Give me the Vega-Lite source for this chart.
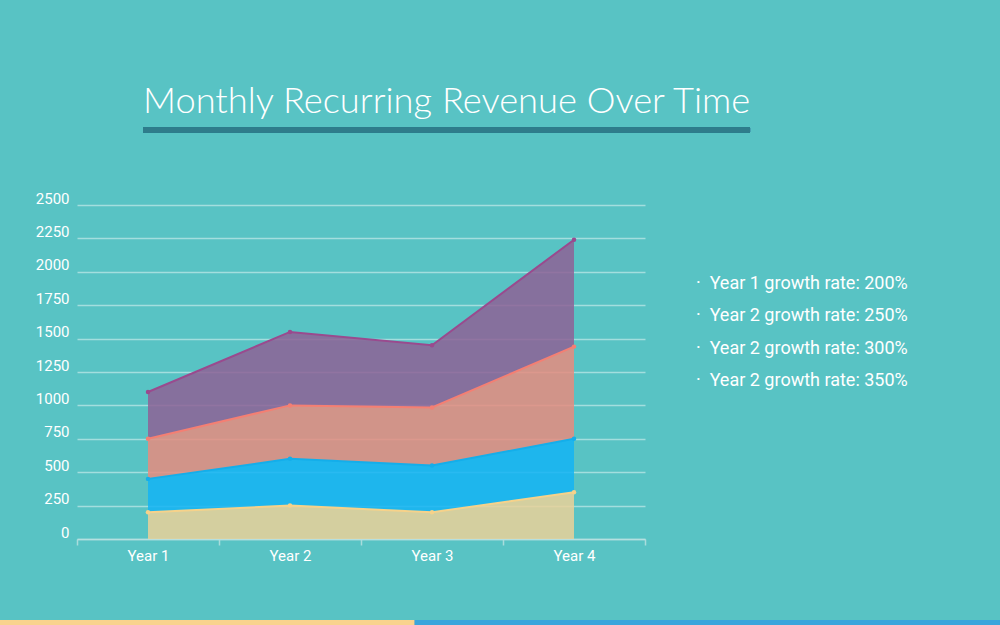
{
  "$schema": "https://vega.github.io/schema/vega-lite/v6.json",
  "autosize": "none",
  "width": 568,
  "height": 334,
  "padding": {"left": 77, "top": 205, "right": 355, "bottom": 86},
  "background": "#58C3C4",
  "title": {
    "text": "Monthly Recurring Revenue Over Time",
    "anchor": "start",
    "frame": "group",
    "dx": 66,
    "offset": -21,
    "baseline": "alphabetic",
    "font": "Lato",
    "fontWeight": 300,
    "fontSize": 36.3,
    "color": "#ffffff"
  },
  "config": {
    "view": {"stroke": null},
    "axis": {"labelFont": "Roboto", "labelColor": "#ffffff", "labelFontSize": 15, "title": null}
  },
  "data": {
    "values": [
      {"year": "Year 1", "series": "Year 1 growth rate: 200%", "value": 200},
      {"year": "Year 2", "series": "Year 1 growth rate: 200%", "value": 250},
      {"year": "Year 3", "series": "Year 1 growth rate: 200%", "value": 200},
      {"year": "Year 4", "series": "Year 1 growth rate: 200%", "value": 350},
      {"year": "Year 1", "series": "Year 2 growth rate: 250%", "value": 250},
      {"year": "Year 2", "series": "Year 2 growth rate: 250%", "value": 350},
      {"year": "Year 3", "series": "Year 2 growth rate: 250%", "value": 350},
      {"year": "Year 4", "series": "Year 2 growth rate: 250%", "value": 400},
      {"year": "Year 1", "series": "Year 2 growth rate: 300%", "value": 300},
      {"year": "Year 2", "series": "Year 2 growth rate: 300%", "value": 400},
      {"year": "Year 3", "series": "Year 2 growth rate: 300%", "value": 435},
      {"year": "Year 4", "series": "Year 2 growth rate: 300%", "value": 690},
      {"year": "Year 1", "series": "Year 2 growth rate: 350%", "value": 350},
      {"year": "Year 2", "series": "Year 2 growth rate: 350%", "value": 550},
      {"year": "Year 3", "series": "Year 2 growth rate: 350%", "value": 465},
      {"year": "Year 4", "series": "Year 2 growth rate: 350%", "value": 800}
    ]
  },
  "transform": [
    {"stack": "value", "groupby": ["year"], "sort": [{"field": "series", "order": "ascending"}], "as": ["v0", "v1"]}
  ],
  "resolve": {"scale": {"x": "independent"}},
  "layer": [
    {
      "mark": {"type": "area", "fillOpacity": 0.85},
      "encoding": {
        "x": {
          "field": "year", "type": "ordinal", "bandPosition": 0.5,
          "scale": {"type": "band", "paddingInner": 0, "paddingOuter": 0},
          "axis": {
            "labelAngle": 0, "labelPadding": 3, "tickBand": "extent", "tickSize": 6,
            "domainColor": "#b5e0e0", "domainWidth": 1.5, "tickColor": "#a9dcdc", "tickWidth": 1.5,
            "grid": false
          }
        },
        "y": {
          "field": "v1", "type": "quantitative",
          "scale": {"domain": [0, 2500], "nice": false},
          "axis": {
            "values": [0, 250, 500, 750, 1000, 1250, 1500, 1750, 2000, 2250, 2500],
            "format": "d", "labelOverlap": false, "labelOffset": -7,
            "domain": false, "ticks": false, "labelPadding": 8,
            "gridColor": "#ffffff", "gridOpacity": 0.45, "gridWidth": 1.5
          }
        },
        "y2": {"field": "v0"},
        "fill": {
          "field": "series", "type": "nominal",
          "scale": {"range": ["#EAD199", "#14B4F5", "#E68C7F", "#8E6196"]},
          "legend": {
            "title": null, "orient": "none", "legendX": 601, "legendY": 70,
            "symbolType": "circle", "symbolSize": 12, "symbolStrokeWidth": 0, "symbolOpacity": 0, "labelOffset": 0,
            "labelExpr": "'·\u00a0\u00a0' + datum.label",
            "labelFont": "Roboto", "labelFontSize": 18, "labelColor": "#ffffff",
            "labelLimit": 400, "rowPadding": 14.3
          }
        }
      }
    },
    {
      "mark": {"type": "line", "strokeWidth": 2},
      "encoding": {
        "x": {"field": "year", "type": "ordinal", "bandPosition": 0.5, "scale": {"type": "band", "paddingInner": 0, "paddingOuter": 0}, "axis": null},
        "y": {
          "field": "v1", "type": "quantitative",
          "axis": {
            "values": [0, 250, 500, 750, 1000, 1250, 1500, 1750, 2000, 2250, 2500],
            "format": "d", "labelOverlap": false, "labelOffset": -7,
            "domain": false, "ticks": false, "labelPadding": 8,
            "gridColor": "#ffffff", "gridOpacity": 0.45, "gridWidth": 1.5
          }
        },
        "stroke": {
          "field": "series", "type": "nominal",
          "scale": {"range": ["#F6D28A", "#14AEEA", "#F47F73", "#9A4A8E"]},
          "legend": null
        }
      }
    },
    {
      "mark": {"type": "point", "filled": true, "size": 20, "opacity": 1},
      "encoding": {
        "x": {"field": "year", "type": "ordinal", "bandPosition": 0.5, "scale": {"type": "band", "paddingInner": 0, "paddingOuter": 0}, "axis": null},
        "y": {
          "field": "v1", "type": "quantitative",
          "axis": {
            "values": [0, 250, 500, 750, 1000, 1250, 1500, 1750, 2000, 2250, 2500],
            "format": "d", "labelOverlap": false, "labelOffset": -7,
            "domain": false, "ticks": false, "labelPadding": 8,
            "gridColor": "#ffffff", "gridOpacity": 0.45, "gridWidth": 1.5
          }
        },
        "color": {"field": "series", "type": "nominal", "scale": {"range": ["#F6D28A", "#14AEEA", "#F47F73", "#9A4A8E"]}, "legend": null}
      }
    },
    {
      "mark": {"type": "rule", "stroke": "#2F7C8B", "strokeWidth": 4.5},
      "encoding": {
        "x": {"datum": 0.1162, "type": "quantitative", "scale": {"domain": [0, 1], "nice": false, "zero": false}, "axis": null},
        "x2": {"datum": 1.1849},
        "y": {
          "datum": 3061, "type": "quantitative",
          "axis": {
            "values": [0, 250, 500, 750, 1000, 1250, 1500, 1750, 2000, 2250, 2500],
            "format": "d", "labelOverlap": false, "labelOffset": -7,
            "domain": false, "ticks": false, "labelPadding": 8,
            "gridColor": "#ffffff", "gridOpacity": 0.45, "gridWidth": 1.5
          }
        }
      }
    },
    {
      "mark": {"type": "rule", "stroke": "#F9D38E", "strokeWidth": 5},
      "encoding": {
        "x": {"datum": -0.1356, "type": "quantitative", "scale": {"domain": [0, 1], "nice": false, "zero": false}, "axis": null},
        "x2": {"datum": 0.595},
        "y": {
          "datum": -625, "type": "quantitative",
          "axis": {
            "values": [0, 250, 500, 750, 1000, 1250, 1500, 1750, 2000, 2250, 2500],
            "format": "d", "labelOverlap": false, "labelOffset": -7,
            "domain": false, "ticks": false, "labelPadding": 8,
            "gridColor": "#ffffff", "gridOpacity": 0.45, "gridWidth": 1.5
          }
        }
      }
    },
    {
      "mark": {"type": "rule", "stroke": "#3AA5DC", "strokeWidth": 5},
      "encoding": {
        "x": {"datum": 0.595, "type": "quantitative", "scale": {"domain": [0, 1], "nice": false, "zero": false}, "axis": null},
        "x2": {"datum": 1.625},
        "y": {
          "datum": -625, "type": "quantitative",
          "axis": {
            "values": [0, 250, 500, 750, 1000, 1250, 1500, 1750, 2000, 2250, 2500],
            "format": "d", "labelOverlap": false, "labelOffset": -7,
            "domain": false, "ticks": false, "labelPadding": 8,
            "gridColor": "#ffffff", "gridOpacity": 0.45, "gridWidth": 1.5
          }
        }
      }
    }
  ]
}
